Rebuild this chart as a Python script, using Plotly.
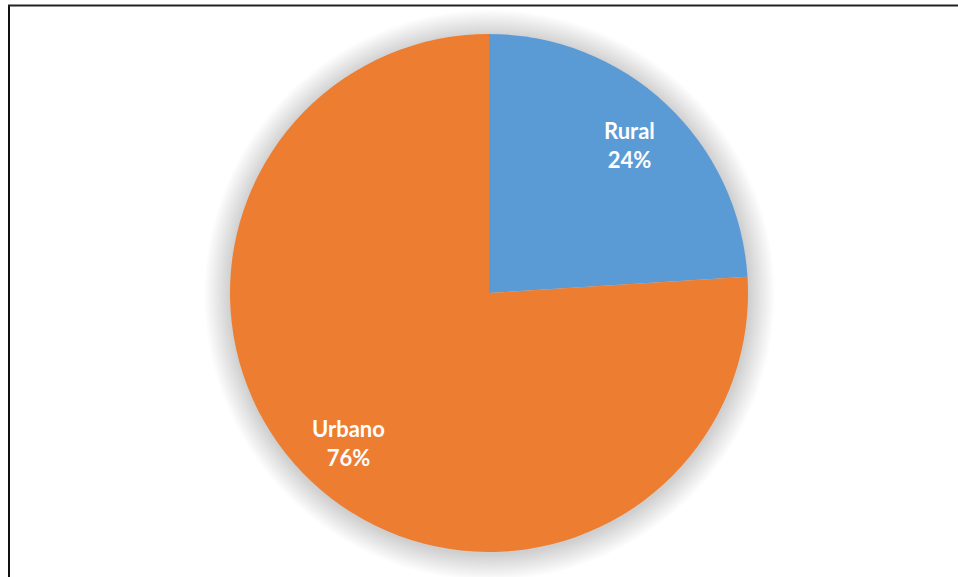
import math
import plotly.graph_objects as go

# Population share by area
categories = ["Rural", "Urbano"]
shares = [24, 76]
slice_colors = ["#5B9BD5", "#ED7D31"]

W, H = 958, 577
cx, cy, R = 489, 293, 259  # pie centre / radius in pixels (from top-left)

def px_x(x):
    return x / W

def px_y(y):
    return 1 - y / H

fig = go.Figure()
fig.add_trace(go.Pie(
    labels=categories,
    values=shares,
    sort=False,
    direction="clockwise",
    rotation=0,
    marker=dict(colors=slice_colors, line=dict(width=0)),
    textinfo="none",
    hoverinfo="label+percent",
    showlegend=False,
    domain=dict(x=[px_x(cx - R), px_x(cx + R)], y=[px_y(cy + R), px_y(cy - R)]),
))

# Soft glow-style shadow under the pie
shapes = []
n_rings = 24
for i in range(n_rings):
    rr = R + 1 + i * 1.1
    ox, oy = cx + 0.5, cy + 2
    shapes.append(dict(
        type="circle", xref="paper", yref="paper", layer="below",
        x0=px_x(ox - rr), x1=px_x(ox + rr), y0=px_y(oy + rr), y1=px_y(oy - rr),
        fillcolor="rgba(0,0,0,0.0072)", line=dict(width=0),
    ))

# Chart frame (left and top edges)
shapes.append(dict(type="line", xref="paper", yref="paper",
                   x0=px_x(9), x1=px_x(9), y0=px_y(5), y1=px_y(H + 5),
                   line=dict(color="#111111", width=2)))
shapes.append(dict(type="line", xref="paper", yref="paper",
                   x0=px_x(8), x1=px_x(W + 5), y0=px_y(5.5), y1=px_y(5.5),
                   line=dict(color="#222222", width=2)))

# Slice labels on each slice's bisector
annotations = []
total = sum(shares)
start = 0.0
for name, v in zip(categories, shares):
    frac = v / total
    mid = (start + frac / 2) * 2 * math.pi
    start += frac
    lx = cx + 0.79 * R * math.sin(mid)
    ly = cy - 0.79 * R * math.cos(mid) + 1
    annotations.append(dict(
        x=px_x(lx), y=px_y(ly), xref="paper", yref="paper",
        xanchor="center", yanchor="middle",
        text=f"<b>{name}</b><br><b>{round(frac * 100)}%</b>",
        showarrow=False, align="center",
        font=dict(family="Lato", size=22, color="white"),
    ))

fig.update_layout(
    width=W, height=H,
    margin=dict(l=0, r=0, t=0, b=0),
    paper_bgcolor="white",
    plot_bgcolor="white",
    shapes=shapes,
    annotations=annotations,
)

fig.write_html("out.html")
